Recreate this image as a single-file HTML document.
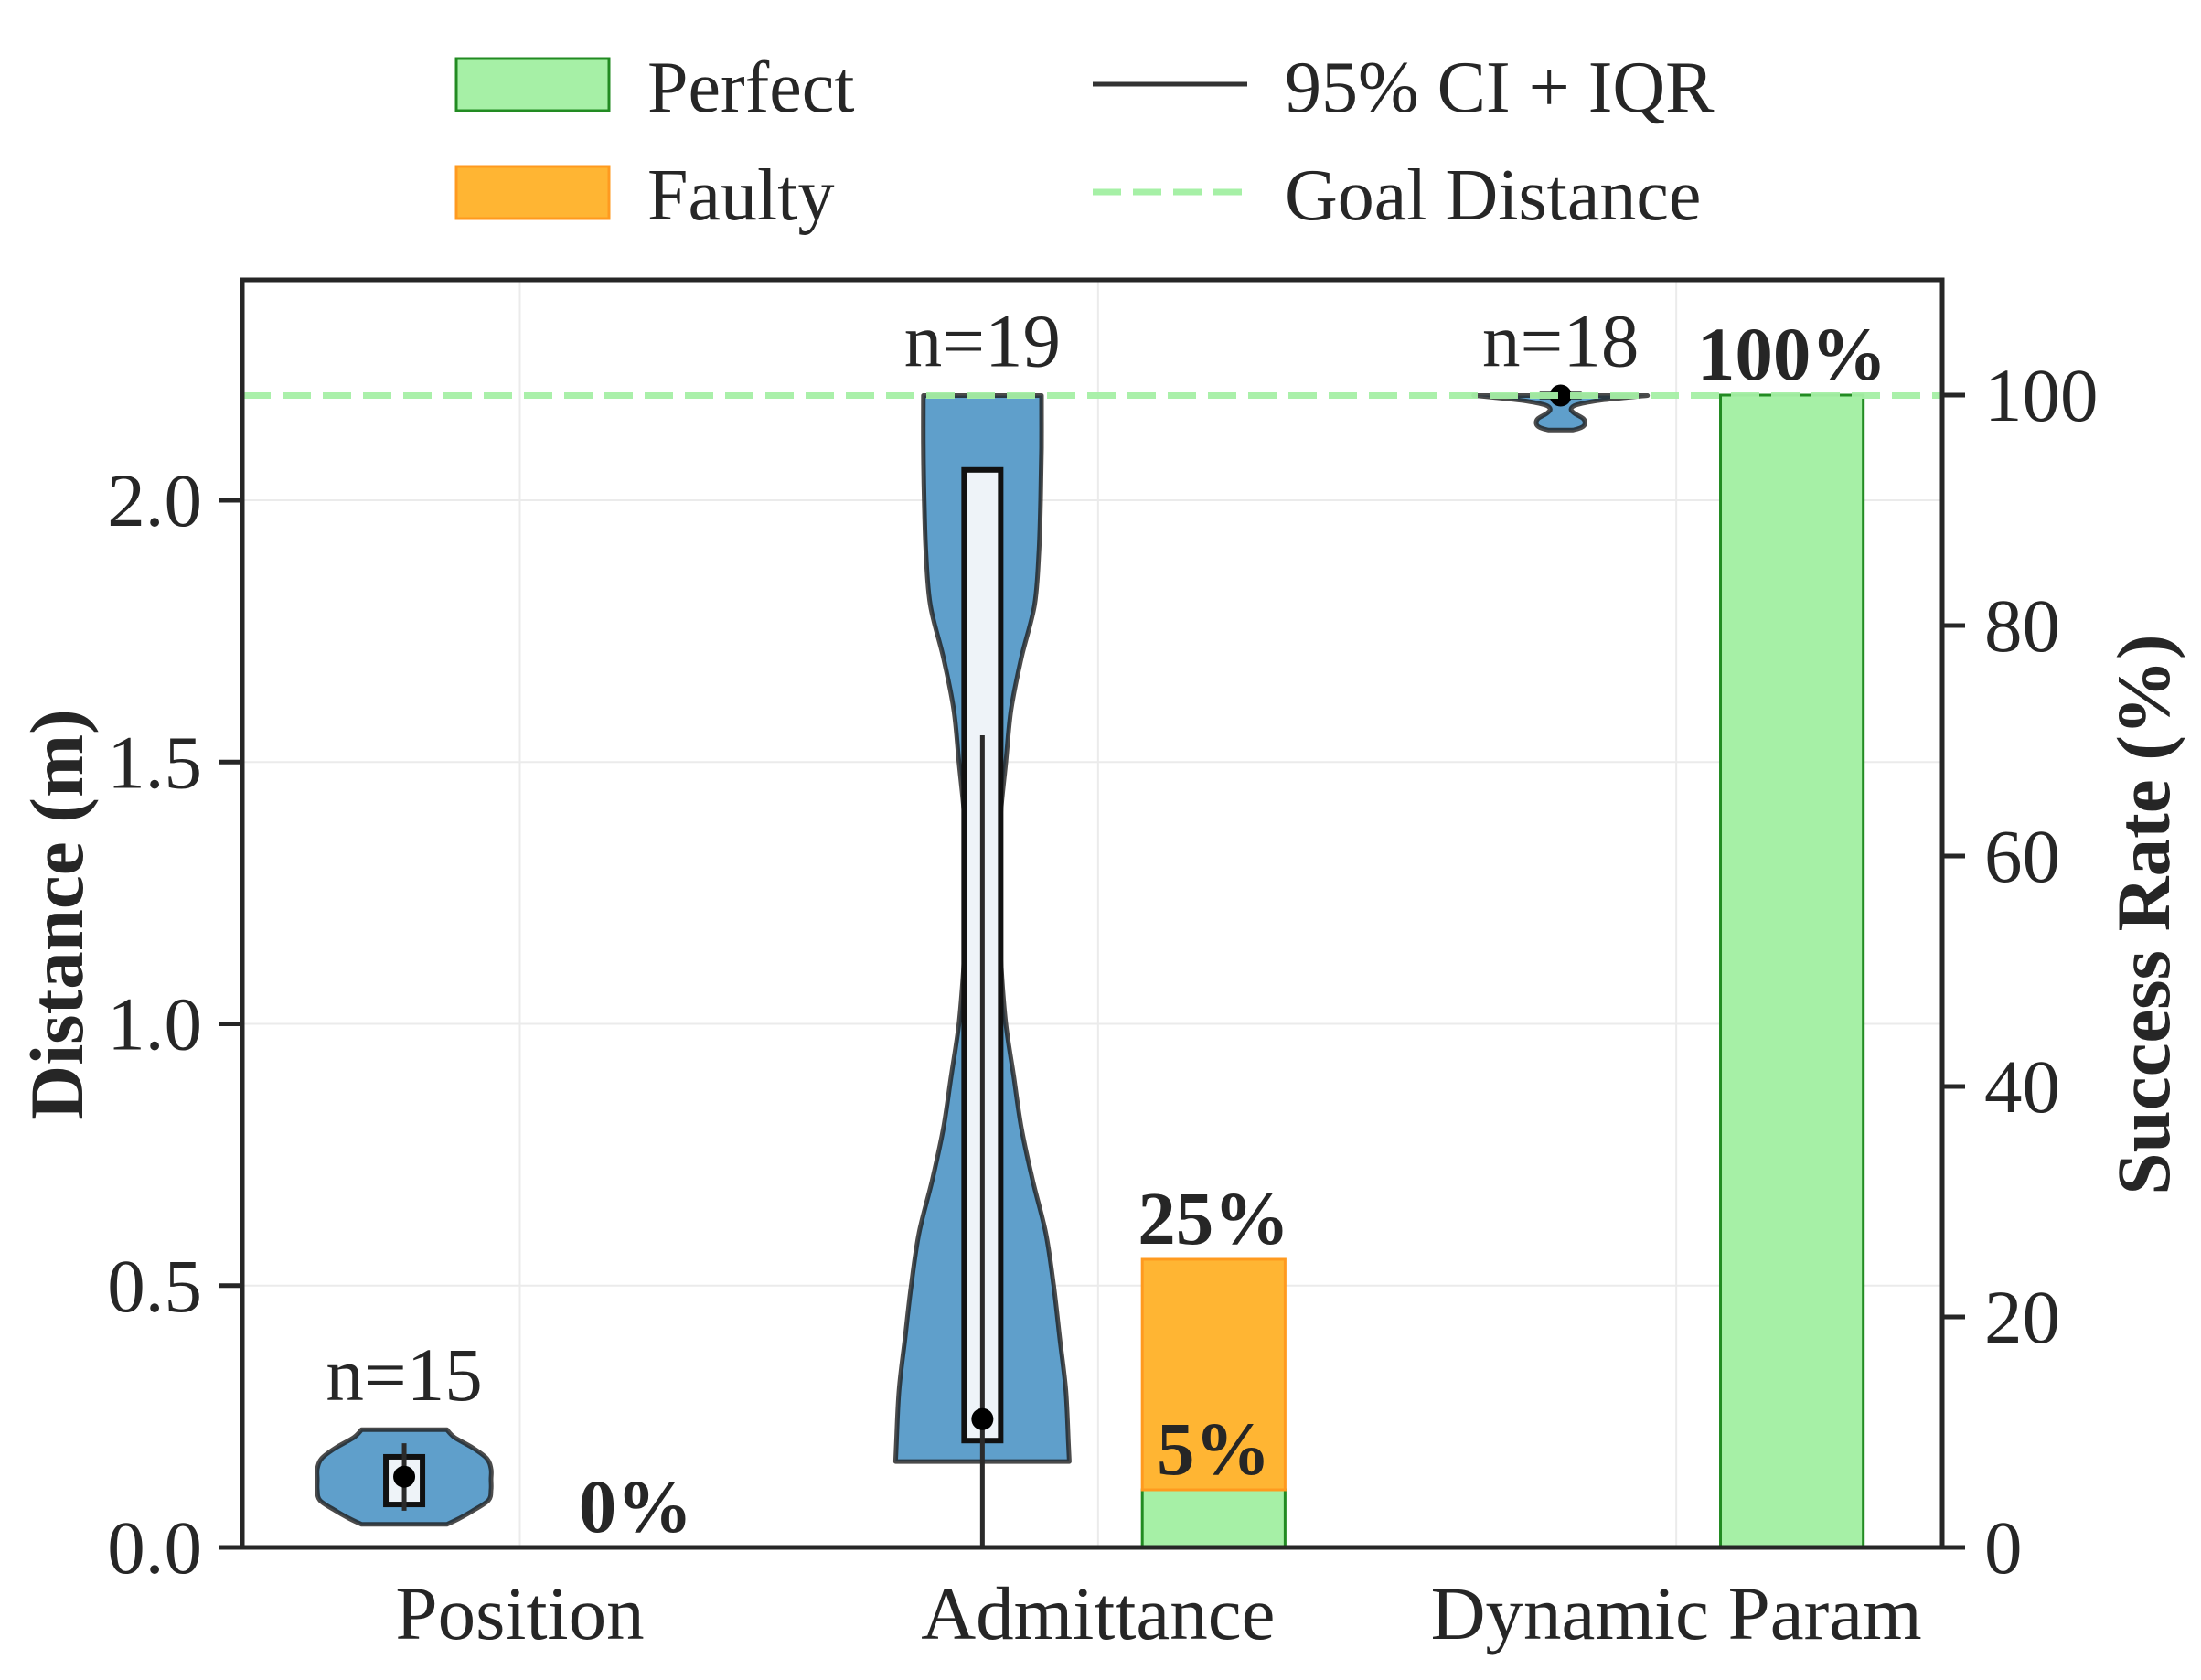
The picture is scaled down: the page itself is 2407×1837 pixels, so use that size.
<!DOCTYPE html>
<html><head><meta charset="utf-8">
<style>
html,body{margin:0;padding:0;background:#fff;}
svg{display:block;}
text{font-family:"Liberation Serif","Times New Roman",serif;fill:#262626;}
</style></head>
<body>
<svg id="chart" width="2407" height="1837" viewBox="0 0 2407 1837" xmlns="http://www.w3.org/2000/svg">
<g id="grid"></g>
<g id="bars"></g>
<g id="violins"></g>
<g id="goal"></g>
<g id="axes"></g>
<g id="labels"></g>
<g id="legend">
  <rect x="499" y="64" width="167" height="57" fill="#a6f0a6" stroke="#228b22" stroke-width="3"/>
  <text x="708" y="122" font-size="80">Perfect</text>
  <rect x="499" y="182" width="167" height="57" fill="#ffb533" stroke="#ff9a1f" stroke-width="3"/>
  <text x="708" y="240" font-size="80">Faulty</text>
  <line x1="1195" y1="92" x2="1364" y2="92" stroke="#333" stroke-width="5"/>
  <text x="1405" y="122" font-size="80">95% CI + IQR</text>
  <line x1="1195" y1="210" x2="1364" y2="210" stroke="#a6f0a6" stroke-width="7" stroke-dasharray="31,13"/>
  <text x="1405" y="240" font-size="80">Goal Distance</text>
</g>
</svg>
<script>
const categories = ["Position", "Admittance", "Dynamic Param"];
const sampleCounts = [15, 19, 18];
const perfectRates = [0, 5, 100];
const faultyRates = [0, 20, 0];
const rateLabels = ["0%", "25%", "100%"];
const innerLabels = ["", "5%", ""];
const goalDistance = 2.2;
const leftTicks = [0, 0.5, 1.0, 1.5, 2.0];
const leftTickLabels = ["0.0", "0.5", "1.0", "1.5", "2.0"];
const rightTicks = [0, 20, 40, 60, 80, 100];
const rightTickLabels = ["0", "20", "40", "60", "80", "100"];
// violin density profiles (value, relative half-width)
const violinValues0 = [0.225, 0.21, 0.19, 0.17, 0.15, 0.13, 0.11, 0.09, 0.07, 0.055, 0.044];
const violinWidths0 = [0.49, 0.58, 0.79, 0.95, 1.0, 1.0, 1.0, 0.97, 0.79, 0.63, 0.49];
const violinValues1 = [2.2, 2.1, 2.0, 1.9, 1.8, 1.7, 1.6, 1.5, 1.4, 1.3, 1.2, 1.1, 1.0, 0.9, 0.8, 0.7, 0.6, 0.5, 0.4, 0.3, 0.2, 0.164];
const violinWidths1 = [0.68, 0.68, 0.67, 0.65, 0.60, 0.45, 0.33, 0.27, 0.21, 0.18, 0.19, 0.22, 0.27, 0.36, 0.45, 0.58, 0.73, 0.82, 0.89, 0.96, 0.99, 1.0];
const violinValues2 = [2.2, 2.196, 2.19, 2.182, 2.174, 2.166, 2.156, 2.146, 2.139, 2.134];
const violinWidths2 = [1.0, 0.75, 0.42, 0.18, 0.12, 0.16, 0.26, 0.28, 0.24, 0.14];
const boxQ1 = [0.082, 0.204, 2.198];
const boxQ3 = [0.173, 2.058, 2.202];
const medians = [0.135, 0.245, 2.2];
const whiskerLow = [0.07, 0.0, 2.2];
const whiskerHigh = [0.199, 1.551, 2.2];

const NS = "http://www.w3.org/2000/svg";
const L = 265, R = 2124, T = 306, B = 1692;
const xMin = -0.48, xMax = 2.46;
const yMaxL = (B - T) / 572.5, yMaxR = 110;
const X = v => L + (v - xMin) / (xMax - xMin) * (R - L);
const YL = v => B - v / yMaxL * (B - T);
const YR = v => B - v / yMaxR * (B - T);
const unit = (R - L) / (xMax - xMin);
const violinOffset = -0.2, barOffset = 0.2, barWidth = 0.247, maxHalf = 95, boxHalf = 20;

function mk(tag, attrs, parent) {
  const el = document.createElementNS(NS, tag);
  for (const k in attrs) el.setAttribute(k, attrs[k]);
  parent.appendChild(el);
  return el;
}
function smooth(pts) {
  let d = 'M' + pts[0][0].toFixed(1) + ',' + pts[0][1].toFixed(1);
  for (let i = 0; i < pts.length - 1; i++) {
    const p0 = pts[Math.max(i - 1, 0)], p1 = pts[i], p2 = pts[i + 1], p3 = pts[Math.min(i + 2, pts.length - 1)];
    const c1 = [p1[0] + (p2[0] - p0[0]) / 6, p1[1] + (p2[1] - p0[1]) / 6];
    const c2 = [p2[0] - (p3[0] - p1[0]) / 6, p2[1] - (p3[1] - p1[1]) / 6];
    d += ' C' + c1.map(v => v.toFixed(1)).join(',') + ' ' + c2.map(v => v.toFixed(1)).join(',') + ' ' + p2[0].toFixed(1) + ',' + p2[1].toFixed(1);
  }
  return d;
}
const grid = document.getElementById('grid');
const axes = document.getElementById('axes');
const bars = document.getElementById('bars');
const violins = document.getElementById('violins');
const labels = document.getElementById('labels');
const goal = document.getElementById('goal');

leftTicks.forEach((t, i) => {
  if (t === 0) return;
  const g = mk('line', {x1: L, x2: R, y1: YL(t), y2: YL(t), stroke: '#ebebeb', 'stroke-width': 2}, grid);
  
  
});
categories.forEach((c, i) => {
  const g = mk('line', {x1: X(i), x2: X(i), y1: T, y2: B, stroke: '#ebebeb', 'stroke-width': 2}, grid);
  
  
});

categories.forEach((c, i) => {
  const x0 = X(i + barOffset - barWidth / 2), w = barWidth * unit;
  const p = mk('rect', {x: x0, y: YR(perfectRates[i]), width: w, height: YR(0) - YR(perfectRates[i]), fill: '#a6f0a6', stroke: '#228b22', 'stroke-width': 3}, bars);
  
  
  if (faultyRates[i] > 0) {
    const top = perfectRates[i] + faultyRates[i];
    const f = mk('rect', {x: x0, y: YR(top), width: w, height: YR(perfectRates[i]) - YR(top), fill: '#ffb533', stroke: '#ff9a1f', 'stroke-width': 3}, bars);
    
    
  }
  const topVal = perfectRates[i] + faultyRates[i];
  const t = mk('text', {x: X(i + barOffset), y: YR(topVal) - 17, 'font-size': 83, 'font-weight': 'bold', 'text-anchor': 'middle'}, labels);
  t.textContent = rateLabels[i];
  
  
  if (innerLabels[i]) {
    const t2 = mk('text', {x: X(i + barOffset), y: YR(perfectRates[i]) - 17, 'font-size': 83, 'font-weight': 'bold', 'text-anchor': 'middle'}, labels);
    t2.textContent = innerLabels[i];
    
    
  }
});

const profV = [violinValues0, violinValues1, violinValues2];
const profW = [violinWidths0, violinWidths1, violinWidths2];
categories.forEach((c, i) => {
  const cx = X(i + violinOffset);
  const vs = profV[i], ws = profW[i];
  const right = vs.map((v, k) => [cx + ws[k] * maxHalf, YL(v)]);
  const left = vs.map((v, k) => [cx - ws[k] * maxHalf, YL(v)]).reverse();
  const d = smooth(right) + ' L' + smooth(left).slice(1) + ' Z';
  const poly = mk('path', {d: d, fill: '#5f9fcb', stroke: 'rgba(30,30,30,0.8)', 'stroke-width': 5, 'stroke-linejoin': 'round'}, violins);
  
  
  const h = Math.max(YL(boxQ1[i]) - YL(boxQ3[i]), 2);
  const box = mk('rect', {x: cx - boxHalf, y: YL(boxQ3[i]), width: boxHalf * 2, height: h, fill: '#eef3f8', stroke: '#111', 'stroke-width': 6}, violins);
  
  
  const wl = mk('line', {x1: cx, x2: cx, y1: YL(whiskerLow[i]), y2: YL(whiskerHigh[i]), stroke: '#2a2a2a', 'stroke-width': 5}, violins);
  
  
  const dot = mk('circle', {cx: cx, cy: YL(medians[i]), r: 12, fill: '#000'}, violins);
  
  
  const topV = Math.max(...vs);
  const n = mk('text', {x: cx, y: YL(topV) - 32, 'font-size': 83, 'text-anchor': 'middle'}, labels);
  n.textContent = 'n=' + sampleCounts[i];
  
  
});

const gl = mk('line', {x1: L, x2: R, y1: YL(goalDistance), y2: YL(goalDistance), stroke: '#a6f0a6', 'stroke-width': 7, 'stroke-dasharray': '31,13', opacity: 0.95}, goal);



const frame = mk('rect', {x: L, y: T, width: R - L, height: B - T, fill: 'none', stroke: '#262626', 'stroke-width': 5}, axes);


leftTicks.forEach((t, i) => {
  const tk = mk('line', {x1: L - 25, x2: L, y1: YL(t), y2: YL(t), stroke: '#262626', 'stroke-width': 5}, axes);
  
  
  const tl = mk('text', {x: 221, y: YL(t) + 28, 'font-size': 83, 'text-anchor': 'end'}, axes);
  tl.textContent = leftTickLabels[i];
  
  
});
rightTicks.forEach((t, i) => {
  const tk = mk('line', {x1: R, x2: R + 25, y1: YR(t), y2: YR(t), stroke: '#262626', 'stroke-width': 5}, axes);
  
  
  const tl = mk('text', {x: 2170, y: YR(t) + 28, 'font-size': 83, 'text-anchor': 'start'}, axes);
  tl.textContent = rightTickLabels[i];
  
  
});
categories.forEach((c, i) => {
  const tl = mk('text', {x: X(i), y: 1792, 'font-size': 83, 'text-anchor': 'middle'}, axes);
  tl.textContent = c;
  
  
});
const yl = mk('text', {x: 0, y: 0, 'font-size': 83, 'font-weight': 'bold', 'text-anchor': 'middle', transform: 'translate(90,1000) rotate(-90)'}, axes);
yl.textContent = 'Distance (m)';


const yr = mk('text', {x: 0, y: 0, 'font-size': 83, 'font-weight': 'bold', 'text-anchor': 'middle', transform: 'translate(2372,1000) rotate(-90)'}, axes);
yr.textContent = 'Success Rate (%)';


</script>
</body></html>
